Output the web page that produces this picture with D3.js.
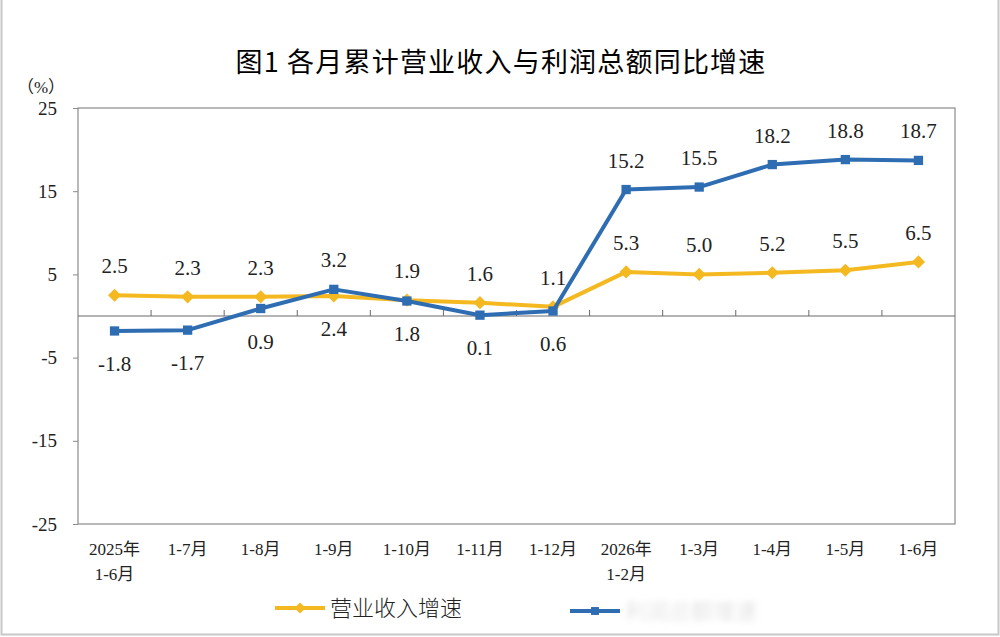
<!DOCTYPE html>
<html>
<head>
<meta charset="utf-8">
<script src="https://cdn.jsdelivr.net/npm/d3@7"></script>
<style>
  body { margin: 0; background: #fff; }
  svg { display: block; }
</style>
</head>
<body>
<svg></svg>
<script>
const size = {w: 1000, h: 637};
const margin = {t: 108, r: 45, b: 113, l: 78};

const months = ['2025年\n1-6月', '1-7月', '1-8月', '1-9月', '1-10月', '1-11月', '1-12月',
    '2026年\n1-2月', '1-3月', '1-4月', '1-5月', '1-6月'];
const revenue = [2.5, 2.3, 2.3, 2.4, 1.9, 1.6, 1.1, 5.3, 5.0, 5.2, 5.5, 6.5];
const profit = [-1.8, -1.7, 0.9, 3.2, 1.8, 0.1, 0.6, 15.2, 15.5, 18.2, 18.8, 18.7];
const yTicks = [25, 15, 5, -5, -15, -25];

const yellow = '#F4B921';
const blue = '#2F6DB3';
const serif = '"Liberation Serif", "Noto Sans CJK SC", serif';
const cjk = '"Noto Sans CJK SC", sans-serif';

const svg = d3.select('svg')
    .attr('width', size.w)
    .attr('height', size.h);

// light outer frame of the picture
svg.append('rect')
    .attr('x', 1.5).attr('y', -2)
    .attr('width', size.w - 3).attr('height', size.h - 0.5)
    .attr('fill', 'none')
    .attr('stroke', '#c8c8c8')
    .attr('stroke-width', 2);

svg.append('text')
    .attr('x', 501).attr('y', 72)
    .attr('text-anchor', 'middle')
    .style('font-family', cjk)
    .style('font-size', '27px')
    .style('font-weight', 400)
    .style('letter-spacing', '1.2px')
    .text('图1  各月累计营业收入与利润总额同比增速');

let x = d3.scalePoint()
    .domain(months)
    .range([margin.l, size.w - margin.r])
    .padding(0.5);

let y = d3.scaleLinear()
    .domain([-25, 25])
    .range([size.h - margin.b, margin.t]);

let step = x.step();
let fmt = d => d3.format('.1f')(d).replace('−', '-');

// plot frame
svg.append('rect')
    .attr('x', margin.l).attr('y', margin.t)
    .attr('width', size.w - margin.l - margin.r)
    .attr('height', size.h - margin.t - margin.b)
    .attr('fill', 'none')
    .attr('stroke', '#8a8a8a')
    .attr('stroke-width', 1.2);

// y axis
let yAxis = svg.append('g')
    .attr('transform', `translate(${margin.l},0)`)
    .call(d3.axisLeft(y).tickValues(yTicks).tickSize(5).tickPadding(16).tickFormat(d => String(d)));
yAxis.select('.domain').remove();
yAxis.selectAll('line').attr('stroke', '#8a8a8a');
yAxis.selectAll('text')
    .style('font-family', serif)
    .style('font-size', '19px')
    .attr('fill', '#222');

svg.append('text')
    .attr('x', 41).attr('y', 93)
    .attr('text-anchor', 'middle')
    .style('font-family', serif)
    .style('font-size', '17px')
    .attr('fill', '#222')
    .text('（%）');

// zero line with category ticks
svg.append('line')
    .attr('x1', margin.l).attr('x2', size.w - margin.r)
    .attr('y1', y(0)).attr('y2', y(0))
    .attr('stroke', '#6a6a6a')
    .attr('stroke-width', 1.2);

svg.append('g')
    .selectAll('line')
    .data(months.slice(1))
    .join('line')
    .attr('x1', d => x(d) - step / 2)
    .attr('x2', d => x(d) - step / 2)
    .attr('y1', y(0)).attr('y2', y(0) - 6)
    .attr('stroke', '#6a6a6a');

// category labels
let cats = svg.append('g')
    .selectAll('text')
    .data(months)
    .join('text')
    .attr('x', d => x(d))
    .attr('y', 555)
    .attr('text-anchor', 'middle')
    .style('font-family', serif)
    .style('font-size', '17px')
    .attr('fill', '#222');
cats.each(function (d) {
    let lines = d.split('\n');
    d3.select(this).selectAll('tspan')
        .data(lines)
        .join('tspan')
        .attr('x', x(d))
        .attr('dy', (l, i) => i === 0 ? 0 : 25)
        .text(l => l);
});

// series
let line = d3.line()
    .x((d, i) => x(months[i]))
    .y(d => y(d));

// label goes below only when the other series sits just above it
function labelAbove(v, o) {
    return v >= o || o - v > 5;
}

function drawSeries(vals, other, color, shape, msize) {
    let g = svg.append('g');
    g.append('path')
        .datum(vals)
        .attr('d', line)
        .attr('fill', 'none')
        .attr('stroke', color)
        .attr('stroke-width', 4)
        .attr('stroke-linejoin', 'round');
    g.selectAll('path.mk')
        .data(vals)
        .join('path')
        .classed('mk', true)
        .attr('d', d3.symbol(shape, msize))
        .attr('transform', (d, i) => `translate(${x(months[i])},${y(d)})`)
        .attr('fill', color);
    g.selectAll('text')
        .data(vals)
        .join('text')
        .attr('x', (d, i) => x(months[i]))
        .attr('y', (d, i) => labelAbove(d, other[i]) ? y(d) - 22 : y(d) + 40)
        .attr('text-anchor', 'middle')
        .style('font-family', serif)
        .style('font-size', '21px')
        .attr('fill', '#222')
        .text(fmt);
}

drawSeries(revenue, profit, yellow, d3.symbolDiamond2, 110);
drawSeries(profit, revenue, blue, d3.symbolSquare2, 110);

// legend
let legend = [
    {name: '营业收入增速', color: yellow, shape: d3.symbolDiamond2, x: 275, y: 608, faded: false},
    {name: '利润总额增速', color: blue, shape: d3.symbolSquare2, x: 570, y: 611, faded: true}
];

svg.append('defs').append('filter')
    .attr('id', 'blur')
    .append('feGaussianBlur')
    .attr('stdDeviation', 3);

let lg = svg.append('g')
    .selectAll('g')
    .data(legend)
    .join('g')
    .attr('transform', d => `translate(${d.x},${d.y})`);
lg.append('line')
    .attr('x1', 0).attr('x2', 50)
    .attr('stroke', d => d.color)
    .attr('stroke-width', 4);
lg.append('path')
    .attr('d', d => d3.symbol(d.shape, 80)())
    .attr('transform', 'translate(25,0)')
    .attr('fill', d => d.color);
lg.append('text')
    .attr('x', 55).attr('y', 8)
    .style('font-family', cjk)
    .style('font-size', '22px')
    .style('font-weight', 300)
    .attr('fill', d => d.faded ? '#d8d8d8' : '#222')
    .attr('filter', d => d.faded ? 'url(#blur)' : null)
    .text(d => d.name);
</script>
</body>
</html>
